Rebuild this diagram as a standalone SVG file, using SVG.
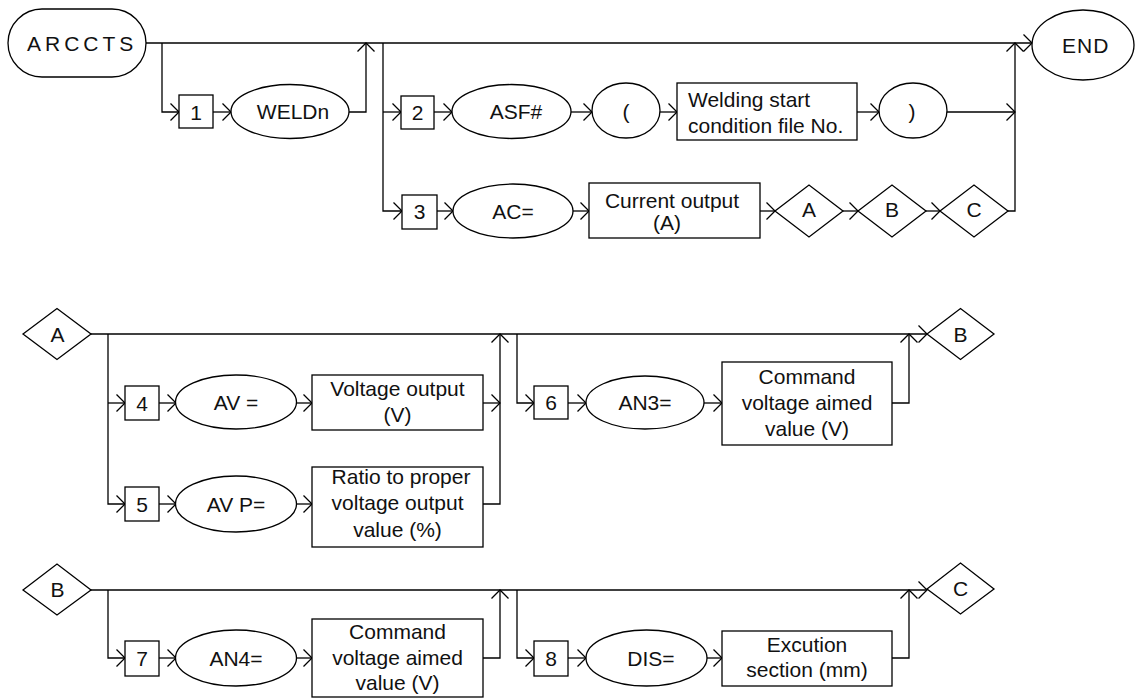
<svg xmlns="http://www.w3.org/2000/svg" width="1135" height="698" viewBox="0 0 1135 698">
<style>
.s{fill:#fff;stroke:#000;stroke-width:1.3}
.c{fill:none;stroke:#000;stroke-width:1.3}
.t{font-family:"Liberation Sans",Arial,sans-serif;font-size:21px;fill:#111;text-anchor:middle}
.l{text-anchor:start}
</style>
<defs>
<marker id="ah" markerWidth="20" markerHeight="20" viewBox="-10 -10 20 20" refX="0" refY="0" orient="auto" markerUnits="userSpaceOnUse">
<path d="M-8.5,-8.5 L0,0 L-8.5,8.5" fill="none" stroke="#000" stroke-width="1.3"/>
</marker>
</defs>
<rect width="1135" height="698" fill="#fff"/>
<g id="connectors" class="c">
<path d="M146,43 H1032" marker-end="url(#ah)"/>
<path d="M162,43 V112 H179" marker-end="url(#ah)"/>
<path d="M213,112 H231" marker-end="url(#ah)"/>
<path d="M349,112 H366 V43" marker-end="url(#ah)"/>
<path d="M383,43 V211 H402" marker-end="url(#ah)"/>
<path d="M383,112 H401" marker-end="url(#ah)"/>
<path d="M434,112 H452" marker-end="url(#ah)"/>
<path d="M571,112 H592" marker-end="url(#ah)"/>
<path d="M660,112 H677" marker-end="url(#ah)"/>
<path d="M857,112 H879" marker-end="url(#ah)"/>
<path d="M947,112 H1015" marker-end="url(#ah)"/>
<path d="M437,211 H453" marker-end="url(#ah)"/>
<path d="M573,211 H589" marker-end="url(#ah)"/>
<path d="M760,211 H775" marker-end="url(#ah)"/>
<path d="M843,211 H858" marker-end="url(#ah)"/>
<path d="M926,211 H940" marker-end="url(#ah)"/>
<path d="M1008,211 H1015 V43" marker-end="url(#ah)"/>
<path d="M91,334 H927" marker-end="url(#ah)"/>
<path d="M108,334 V504 H125" marker-end="url(#ah)"/>
<path d="M108,403 H125" marker-end="url(#ah)"/>
<path d="M159,403 H176" marker-end="url(#ah)"/>
<path d="M297,403 H312" marker-end="url(#ah)"/>
<path d="M483,403 H500" marker-end="url(#ah)"/>
<path d="M159,504 H176" marker-end="url(#ah)"/>
<path d="M297,504 H312" marker-end="url(#ah)"/>
<path d="M483,504 H500 V334" marker-end="url(#ah)"/>
<path d="M517,334 V403 H534" marker-end="url(#ah)"/>
<path d="M568,403 H586" marker-end="url(#ah)"/>
<path d="M704,403 H722" marker-end="url(#ah)"/>
<path d="M892,403 H909 V334" marker-end="url(#ah)"/>
<path d="M91,590 H927" marker-end="url(#ah)"/>
<path d="M108,590 V658 H125" marker-end="url(#ah)"/>
<path d="M159,658 H176" marker-end="url(#ah)"/>
<path d="M297,658 H312" marker-end="url(#ah)"/>
<path d="M483,658 H500 V590" marker-end="url(#ah)"/>
<path d="M517,590 V658 H534" marker-end="url(#ah)"/>
<path d="M568,658 H586" marker-end="url(#ah)"/>
<path d="M707,658 H722" marker-end="url(#ah)"/>
<path d="M892,658 H909 V590" marker-end="url(#ah)"/>
</g>
<g id="arccts"><rect class="s" x="8" y="9" width="138" height="68" rx="34" ry="34"/><text class="t l" x="27" y="51" style="letter-spacing:4px">ARCCTS</text></g>
<g id="end"><ellipse class="s" cx="1083" cy="45" rx="51" ry="35"/><text class="t l" x="1062" y="52.5" style="letter-spacing:1px">END</text></g>
<g id="box1"><rect class="s" x="179" y="95" width="34" height="33"/><text class="t" x="196" y="119.5">1</text></g>
<g id="weldn"><ellipse class="s" cx="290" cy="111.5" rx="59" ry="27"/><text class="t" x="293" y="119">WELDn</text></g>
<g id="box2"><rect class="s" x="401" y="96" width="33" height="33"/><text class="t" x="417.5" y="120">2</text></g>
<g id="asf"><ellipse class="s" cx="511.5" cy="111.5" rx="59.5" ry="27"/><text class="t" x="516" y="119">ASF#</text></g>
<g id="lparen"><ellipse class="s" cx="626" cy="110.5" rx="34" ry="27.5"/><text class="t" x="626" y="119">(</text></g>
<g id="filenum"><rect class="s" x="677" y="83" width="180" height="57"/><text class="t l" x="688" y="107">Welding start</text><text class="t l" x="688" y="133">condition file No.</text></g>
<g id="rparen"><ellipse class="s" cx="913" cy="110.5" rx="34" ry="27.5"/><text class="t" x="912" y="119">)</text></g>
<g id="box3"><rect class="s" x="402" y="195" width="35" height="34"/><text class="t" x="419.5" y="219">3</text></g>
<g id="ac"><ellipse class="s" cx="513" cy="211" rx="60" ry="27"/><text class="t" x="513" y="218.5">AC=</text></g>
<g id="current"><rect class="s" x="589" y="183" width="171" height="55"/><text class="t" x="672" y="207.5">Current output</text><text class="t" x="667" y="230">(A)</text></g>
<g id="dA1"><path class="s" d="M775,211 L809,185 L843,211 L809,237 Z"/><text class="t" x="809" y="217">A</text></g>
<g id="dB1"><path class="s" d="M858,211 L892,185 L926,211 L892,237 Z"/><text class="t" x="892" y="217">B</text></g>
<g id="dC1"><path class="s" d="M940,211 L974,185 L1008,211 L974,237 Z"/><text class="t" x="974" y="217">C</text></g>
<g id="dA2"><path class="s" d="M23,334 L57,308.5 L91,334 L57,359.5 Z"/><text class="t" x="57.5" y="341.5">A</text></g>
<g id="box4"><rect class="s" x="125" y="386" width="34" height="34"/><text class="t" x="142" y="410.5">4</text></g>
<g id="av"><ellipse class="s" cx="236" cy="402" rx="60.5" ry="27"/><text class="t" x="236" y="409.5">AV =</text></g>
<g id="voltage"><rect class="s" x="312" y="375" width="171" height="55"/><text class="t" x="397.5" y="395.5">Voltage output</text><text class="t" x="397.5" y="421.5">(V)</text></g>
<g id="box5"><rect class="s" x="125" y="487" width="34" height="34"/><text class="t" x="142" y="511.5">5</text></g>
<g id="avp"><ellipse class="s" cx="236" cy="504" rx="60.5" ry="28"/><text class="t" x="236" y="511.5">AV P=</text></g>
<g id="ratio"><rect class="s" x="312" y="467" width="171" height="80"/><text class="t" x="401" y="484">Ratio to proper</text><text class="t" x="397.5" y="510">voltage output</text><text class="t" x="397.5" y="537">value (%)</text></g>
<g id="box6"><rect class="s" x="534" y="386" width="34" height="33"/><text class="t" x="551" y="410">6</text></g>
<g id="an3"><ellipse class="s" cx="645" cy="402.5" rx="59" ry="26.5"/><text class="t" x="645" y="410">AN3=</text></g>
<g id="cmd6"><rect class="s" x="722" y="362" width="170" height="83"/><text class="t" x="807" y="384">Command</text><text class="t" x="807" y="410">voltage aimed</text><text class="t" x="807" y="436">value (V)</text></g>
<g id="dB2"><path class="s" d="M927,334 L960.5,308.5 L994,334 L960.5,359.5 Z"/><text class="t" x="960.5" y="341.5">B</text></g>
<g id="dB3"><path class="s" d="M23,590 L57,564 L91,590 L57,615 Z"/><text class="t" x="57.5" y="597">B</text></g>
<g id="box7"><rect class="s" x="125" y="641" width="34" height="35"/><text class="t" x="142" y="665.5">7</text></g>
<g id="an4"><ellipse class="s" cx="236" cy="658" rx="60.5" ry="28"/><text class="t" x="236" y="665.5">AN4=</text></g>
<g id="cmd7"><rect class="s" x="312" y="619" width="171" height="78"/><text class="t" x="397.5" y="639">Command</text><text class="t" x="397.5" y="665">voltage aimed</text><text class="t" x="397.5" y="690">value (V)</text></g>
<g id="box8"><rect class="s" x="534" y="641" width="34" height="35"/><text class="t" x="551" y="665.5">8</text></g>
<g id="dis"><ellipse class="s" cx="646.5" cy="658" rx="60.5" ry="28"/><text class="t" x="651" y="665.5">DIS=</text></g>
<g id="excution"><rect class="s" x="722" y="631" width="170" height="55"/><text class="t" x="807" y="652">Excution</text><text class="t" x="807" y="677">section (mm)</text></g>
<g id="dC2"><path class="s" d="M927,589 L960.5,563 L994,589 L960.5,614 Z"/><text class="t" x="960.5" y="596">C</text></g>
</svg>
